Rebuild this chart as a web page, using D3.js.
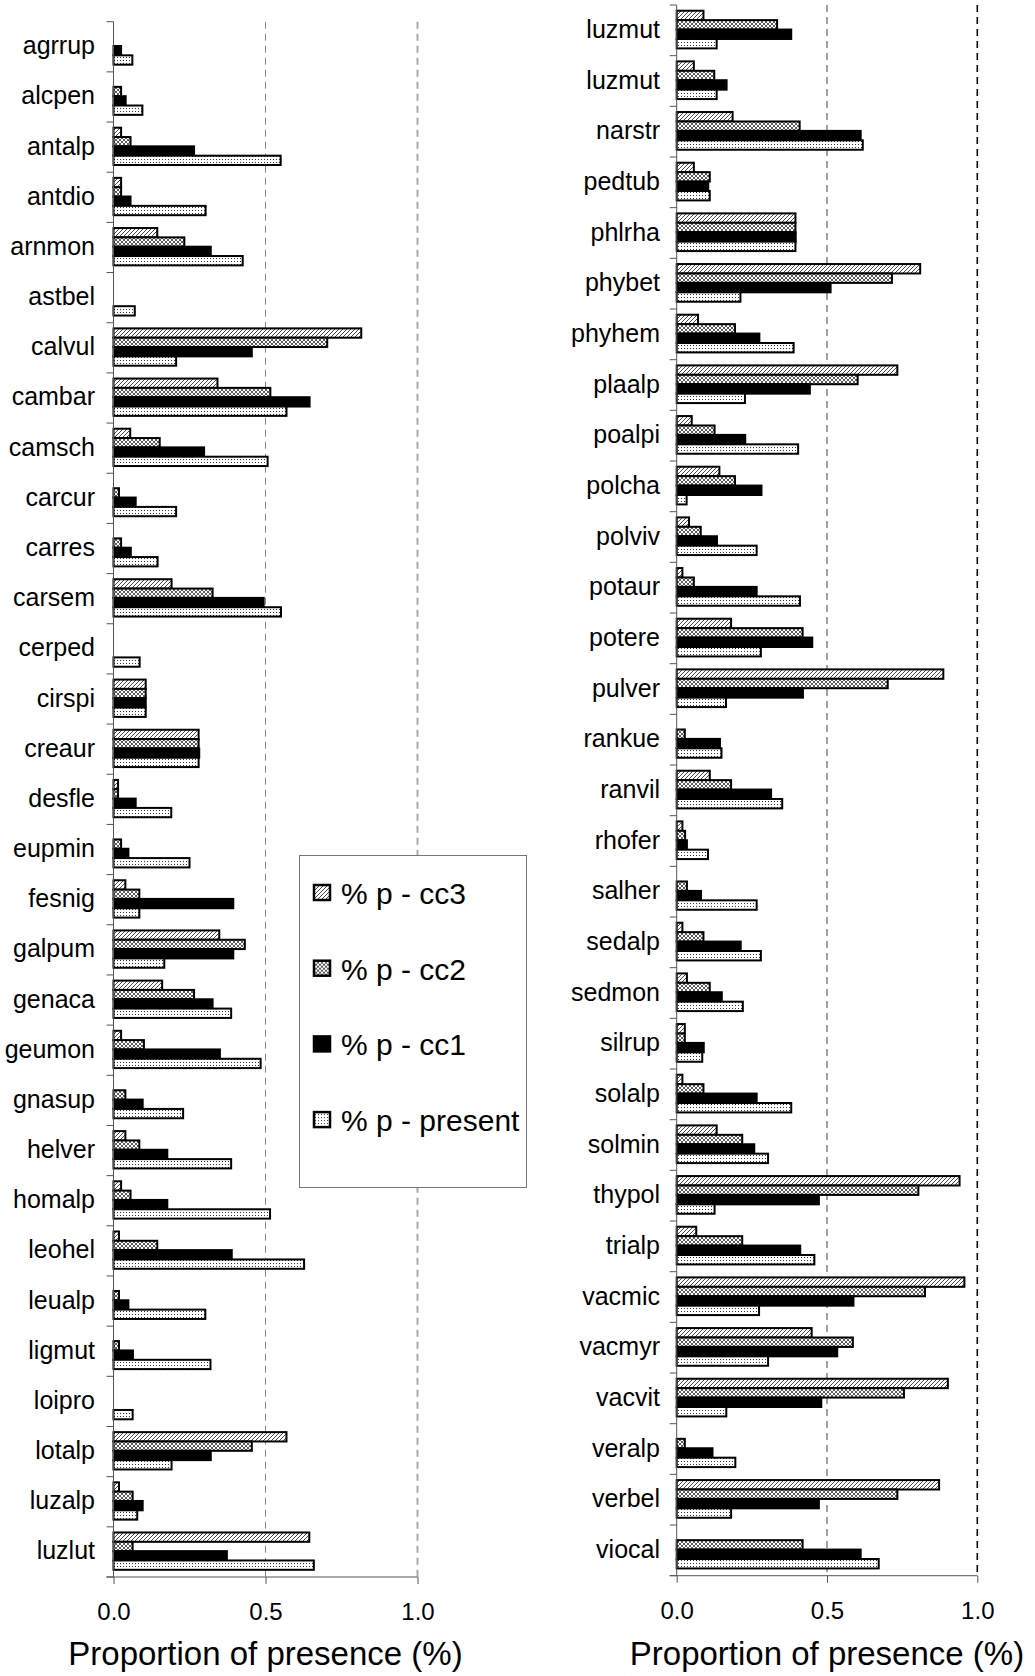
<!DOCTYPE html>
<html>
<head>
<meta charset="utf-8">
<script src="https://cdn.jsdelivr.net/npm/d3@7"></script>
<style>
body { margin: 0; background: #fff; }
text { font-family: "Liberation Sans", Arial, sans-serif; fill: #000; }
</style>
</head>
<body>
<script>
var seriesNames = ["cc3", "cc2", "cc1", "present"];
var legendLabels = ["% p - cc3", "% p - cc2", "% p - cc1", "% p - present"];
var xTicks = [0, 0.5, 1.0];
var axisTitle = "Proportion of presence (%)";

// left panel
var leftSpecies = ["agrrup","alcpen","antalp","antdio","arnmon","astbel","calvul","cambar","camsch","carcur",
    "carres","carsem","cerped","cirspi","creaur","desfle","eupmin","fesnig","galpum","genaca",
    "geumon","gnasup","helver","homalp","leohel","leualp","ligmut","loipro","lotalp","luzalp","luzlut"];
var leftCC3 = [0,0,0.025,0.025,0.144,0,0.815,0.342,0.055,0,
    0,0.191,0,0.106,0.28,0.015,0,0.039,0.348,0.16,
    0.025,0,0.039,0.025,0.018,0,0,0,0.569,0.018,0.644];
var leftCC2 = [0,0.025,0.056,0.025,0.233,0,0.703,0.516,0.152,0.018,
    0.025,0.326,0,0.106,0.28,0.015,0.025,0.085,0.432,0.265,
    0.1,0.039,0.085,0.056,0.144,0.018,0.018,0,0.455,0.063,0.063];
var leftCC1 = [0.025,0.04,0.265,0.056,0.32,0,0.455,0.645,0.298,0.073,
    0.057,0.494,0,0.106,0.282,0.073,0.049,0.394,0.394,0.326,
    0.35,0.096,0.177,0.177,0.389,0.049,0.064,0,0.32,0.096,0.373];
var leftPresent = [0.062,0.095,0.55,0.303,0.425,0.07,0.206,0.569,0.507,0.206,
    0.145,0.551,0.086,0.106,0.28,0.19,0.25,0.085,0.167,0.387,
    0.484,0.229,0.387,0.515,0.627,0.302,0.319,0.063,0.191,0.078,0.659];

// right panel
var rightSpecies = ["luzmut","luzmut","narstr","pedtub","phlrha","phybet","phyhem","plaalp","poalpi","polcha",
    "polviv","potaur","potere","pulver","rankue","ranvil","rhofer","salher","sedalp","sedmon",
    "silrup","solalp","solmin","thypol","trialp","vacmic","vacmyr","vacvit","veralp","verbel","viocal"];
var rightCC3 = [0.089,0.057,0.186,0.057,0.395,0.81,0.071,0.734,0.05,0.142,
    0.041,0.019,0.181,0.887,0,0.11,0.019,0,0.019,0.034,
    0.027,0.019,0.133,0.941,0.065,0.957,0.449,0.902,0,0.873,0];
var rightCC2 = [0.334,0.125,0.409,0.11,0.395,0.716,0.194,0.602,0.126,0.194,
    0.08,0.057,0.419,0.702,0.027,0.181,0.028,0.034,0.089,0.11,
    0.027,0.089,0.218,0.804,0.218,0.826,0.586,0.756,0.027,0.734,0.419];
var rightCC1 = [0.381,0.166,0.612,0.105,0.396,0.512,0.275,0.443,0.228,0.282,
    0.134,0.266,0.451,0.42,0.144,0.314,0.034,0.081,0.213,0.15,
    0.09,0.266,0.258,0.473,0.411,0.588,0.534,0.481,0.119,0.473,0.612];
var rightPresent = [0.133,0.133,0.619,0.11,0.395,0.212,0.389,0.227,0.404,0.033,
    0.266,0.41,0.28,0.164,0.149,0.351,0.104,0.266,0.28,0.22,
    0.085,0.381,0.304,0.126,0.458,0.274,0.304,0.165,0.195,0.181,0.672];

var svg = d3.select("body").append("svg")
    .attr("width", 1035)
    .attr("height", 1676);

svg.append("rect").attr("width", 1035).attr("height", 1676).attr("fill", "#fff");

// fill patterns
var defs = svg.append("defs");
var p3 = defs.append("pattern").attr("id", "pat-cc3")
    .attr("patternUnits", "userSpaceOnUse").attr("width", 4).attr("height", 4);
p3.append("rect").attr("width", 4).attr("height", 4).attr("fill", "#fff");
p3.append("path").attr("d", "M-1,1 l2,-2 M0,4 l4,-4 M3,5 l2,-2")
    .attr("stroke", "#333").attr("stroke-width", 0.9);

var p2 = defs.append("pattern").attr("id", "pat-cc2")
    .attr("patternUnits", "userSpaceOnUse").attr("width", 4).attr("height", 4);
p2.append("rect").attr("width", 4).attr("height", 4).attr("fill", "#fff");
p2.append("path").attr("d", "M-1,1 l2,-2 M0,4 l4,-4 M3,5 l2,-2 M-1,3 l2,2 M0,0 l4,4 M3,-1 l2,2")
    .attr("stroke", "#333").attr("stroke-width", 0.8);

var pp = defs.append("pattern").attr("id", "pat-present")
    .attr("patternUnits", "userSpaceOnUse").attr("width", 3).attr("height", 3);
pp.append("rect").attr("width", 3).attr("height", 3).attr("fill", "#fff");
pp.append("rect").attr("width", 1).attr("height", 1).attr("fill", "#333");

var fillFor = function(s) {
    return s == "cc1" ? "#000" : "url(#pat-" + s + ")";
};

var drawPanel = function(o) {
    var n = o.species.length;
    var x = d3.scaleLinear().domain([0, 1]).range([o.x0, o.x1]);
    var y = d3.scaleBand().domain(d3.range(n)).range([o.top, o.bottom]);
    var ySub = d3.scaleBand().domain(seriesNames)
        .range([0, y.bandwidth()])
        .paddingOuter(0.688)
        .align(0.44);

    var g = svg.append("g");

    // dashed gridlines
    g.selectAll(".grid").data([0.5, 1.0]).enter().append("line")
        .attr("x1", function(d) { return x(d); })
        .attr("x2", function(d) { return x(d); })
        .attr("y1", o.top)
        .attr("y2", o.bottom)
        .attr("stroke", function(d, i) { return o.gridColors[i]; })
        .attr("stroke-width", function(d, i) { return o.gridWidths[i]; })
        .attr("stroke-dasharray", "7,5");

    var rows = [];
    for (var i = 0; i < n; i++) {
        for (var j = 0; j < 4; j++) {
            rows.push({ i: i, s: seriesNames[j], v: o.values[j][i] });
        }
    }

    g.selectAll(".bar").data(rows.filter(function(d) { return d.v > 0; }))
        .enter().append("rect")
        .attr("x", x(0))
        .attr("y", function(d) { return y(d.i) + ySub(d.s); })
        .attr("width", function(d) { return x(d.v) - x(0); })
        .attr("height", ySub.bandwidth())
        .attr("fill", function(d) { return fillFor(d.s); })
        .attr("stroke", "#000")
        .attr("stroke-width", 2);

    // y axis with ticks between categories
    g.append("line")
        .attr("x1", x(0)).attr("x2", x(0))
        .attr("y1", o.top).attr("y2", o.bottom)
        .attr("stroke", "#555");
    g.selectAll(".ytick").data(d3.range(n + 1)).enter().append("line")
        .attr("x1", x(0) - 7).attr("x2", x(0))
        .attr("y1", function(d) { return d < n ? y(d) : o.bottom; })
        .attr("y2", function(d) { return d < n ? y(d) : o.bottom; })
        .attr("stroke", "#555");

    g.selectAll(".lab").data(o.species).enter().append("text")
        .attr("x", o.labelX)
        .attr("y", function(d, i) { return y(i) + y.bandwidth() / 2; })
        .attr("dy", "0.3em")
        .attr("text-anchor", "end")
        .style("font-size", "25px")
        .text(function(d) { return d; });

    // x axis
    var ax = g.append("g")
        .attr("transform", "translate(0," + o.bottom + ")")
        .call(d3.axisBottom(x).tickValues(xTicks).tickFormat(d3.format(".1f"))
            .tickSize(7).tickPadding(19));
    ax.select(".domain").remove();
    ax.selectAll("line").attr("stroke", "#555");
    ax.selectAll("text")
        .style("font-size", "24px")
        .style("font-family", "'Liberation Sans', Arial, sans-serif")
        .attr("fill", "#000");
    g.append("line")
        .attr("x1", x(0) - 7).attr("x2", x(1))
        .attr("y1", o.bottom).attr("y2", o.bottom)
        .attr("stroke", "#555");

    g.append("text")
        .attr("x", (o.x0 + o.x1) / 2)
        .attr("y", 1665)
        .attr("text-anchor", "middle")
        .style("font-size", "33px")
        .text(axisTitle);
};

drawPanel({
    species: leftSpecies,
    values: [leftCC3, leftCC2, leftCC1, leftPresent],
    x0: 113.5, x1: 417.5, top: 21.7, bottom: 1577,
    labelX: 95,
    gridColors: ["#888", "#aaa"],
    gridWidths: [1, 2]
});

drawPanel({
    species: rightSpecies,
    values: [rightCC3, rightCC2, rightCC1, rightPresent],
    x0: 676.7, x1: 977.3, top: 5, bottom: 1575.7,
    labelX: 660,
    gridColors: ["#444", "#000"],
    gridWidths: [1, 1.6]
});

// legend
var legend = svg.append("g");
legend.append("rect")
    .attr("x", 299.5).attr("y", 855.5)
    .attr("width", 227).attr("height", 332)
    .attr("fill", "#fff")
    .attr("stroke", "#777");

var item = legend.selectAll(".item").data(seriesNames).enter().append("g")
    .attr("transform", function(d, i) { return "translate(0," + (893 + i * 75.7) + ")"; });
item.append("rect")
    .attr("x", 314).attr("y", -8)
    .attr("width", 16).attr("height", 15)
    .attr("fill", function(d) { return fillFor(d); })
    .attr("stroke", "#000")
    .attr("stroke-width", 2.5);
item.append("text")
    .attr("x", 341)
    .attr("y", 0)
    .attr("dy", "0.36em")
    .style("font-size", "30px")
    .text(function(d, i) { return legendLabels[i]; });
</script>
</body>
</html>
